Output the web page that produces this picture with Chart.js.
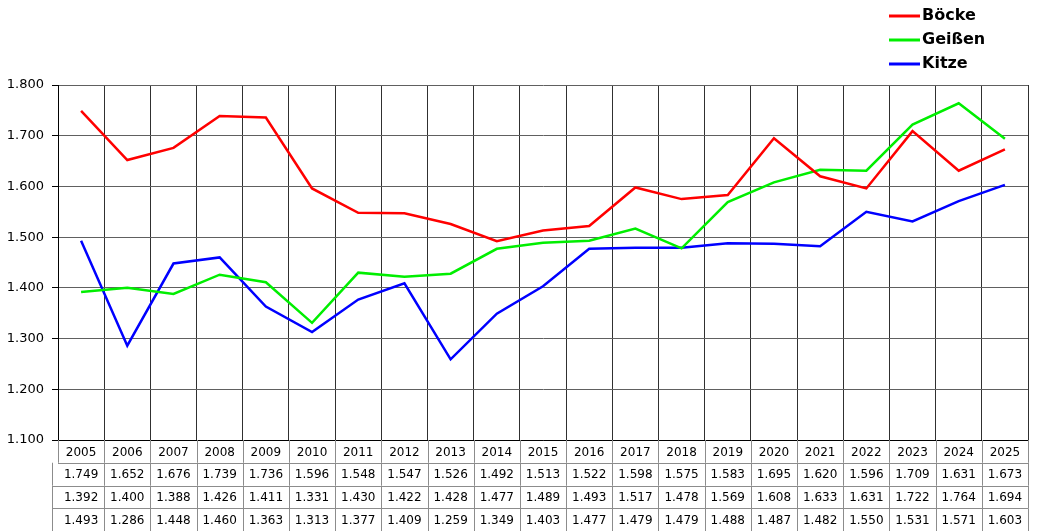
<!DOCTYPE html>
<html>
<head>
<meta charset="utf-8">
<script src="https://cdn.jsdelivr.net/npm/chart.js@4"></script>
<style>
  html, body { margin: 0; padding: 0; background: #fff; }
  #wrap { width: 1037px; height: 531px; }
</style>
</head>
<body>
<div id="wrap"><canvas id="chart" width="1037" height="531"></canvas></div>
<script>
const years = ['2005','2006','2007','2008','2009','2010','2011','2012','2013','2014','2015','2016','2017','2018','2019','2020','2021','2022','2023','2024','2025'];
const boecke = [1749,1652,1676,1739,1736,1596,1548,1547,1526,1492,1513,1522,1598,1575,1583,1695,1620,1596,1709,1631,1673];
const geissen = [1392,1400,1388,1426,1411,1331,1430,1422,1428,1477,1489,1493,1517,1478,1569,1608,1633,1631,1722,1764,1694];
const kitze = [1493,1286,1448,1460,1363,1313,1377,1409,1259,1349,1403,1477,1479,1479,1488,1487,1482,1550,1531,1571,1603];

// 1749 -> "1.749"
const fmt = v => {
  const s = String(Math.round(v));
  return s.length > 3 ? s.slice(0, -3) + '.' + s.slice(-3) : s;
};

const FONT = '"DejaVu Sans", Verdana, sans-serif';

// data table under the plot, columns taken from the x scale
const tablePlugin = {
  id: 'dataTable',
  afterDraw(chart) {
    const ctx = chart.ctx;
    const x = chart.scales.x;
    const area = chart.chartArea;
    const w = x.getPixelForValue(1) - x.getPixelForValue(0);
    const top = area.bottom;
    const rowH = (chart.height - top) / 4;
    const rows = [years].concat(chart.data.datasets.map(d => d.data.map(fmt)));
    ctx.save();
    ctx.strokeStyle = '#8c8c8c';
    ctx.lineWidth = 1;
    ctx.font = '12px ' + FONT;
    ctx.fillStyle = '#000';
    ctx.textAlign = 'center';
    ctx.textBaseline = 'middle';
    rows.forEach((row, r) => {
      const y0 = top + r * rowH;
      const left = r === 0 ? area.left : area.left - 6;
      ctx.beginPath();
      ctx.moveTo(left, Math.round(y0 + rowH) + 0.5);
      ctx.lineTo(area.right, Math.round(y0 + rowH) + 0.5);
      ctx.moveTo(left + 0.5, y0);
      ctx.lineTo(left + 0.5, y0 + rowH);
      ctx.stroke();
      row.forEach((txt, i) => {
        const cx = x.getPixelForValue(i);
        const xr = Math.round(cx + w / 2) + 0.5;
        ctx.beginPath();
        ctx.moveTo(xr, y0);
        ctx.lineTo(xr, y0 + rowH);
        ctx.stroke();
        ctx.fillText(txt, cx, y0 + rowH / 2 + 1);
      });
    });
    ctx.restore();
  }
};

// stacked legend top right
const legendPlugin = {
  id: 'stackLegend',
  afterDraw(chart) {
    const ctx = chart.ctx;
    ctx.save();
    ctx.font = 'bold 16px ' + FONT;
    ctx.textBaseline = 'middle';
    ctx.textAlign = 'left';
    chart.data.datasets.forEach((ds, i) => {
      const y = 16 + i * 24;
      ctx.strokeStyle = ds.borderColor;
      ctx.lineWidth = 3;
      ctx.beginPath();
      ctx.moveTo(889, y);
      ctx.lineTo(920, y);
      ctx.stroke();
      ctx.fillStyle = '#000';
      ctx.fillText(ds.label, 922, y);
    });
    ctx.restore();
  }
};

new Chart(document.getElementById('chart'), {
  type: 'line',
  data: {
    labels: years,
    datasets: [
      { label: 'Böcke', data: boecke, borderColor: '#ff0000' },
      { label: 'Geißen', data: geissen, borderColor: '#00ee00' },
      { label: 'Kitze', data: kitze, borderColor: '#0000ff' }
    ]
  },
  options: {
    responsive: false,
    animation: false,
    layout: { padding: { top: 85, bottom: 91, right: 9, left: 0 } },
    elements: {
      line: { borderWidth: 2.5, tension: 0 },
      point: { radius: 0 }
    },
    plugins: { legend: { display: false }, tooltip: { enabled: false } },
    scales: {
      x: {
        offset: true,
        grid: { offset: true, color: '#303030', lineWidth: 1, drawTicks: false },
        border: { color: '#000' },
        ticks: { display: false }
      },
      y: {
        min: 1100,
        max: 1800,
        afterFit(scale) { scale.width = 58; },
        grid: { color: '#606060', lineWidth: 1, tickLength: 6, tickColor: '#000' },
        border: { color: '#000' },
        ticks: {
          stepSize: 100,
          padding: 8,
          color: '#000',
          font: { family: FONT, size: 13 },
          callback: v => fmt(v)
        }
      }
    }
  },
  plugins: [tablePlugin, legendPlugin]
});
</script>
</body>
</html>
